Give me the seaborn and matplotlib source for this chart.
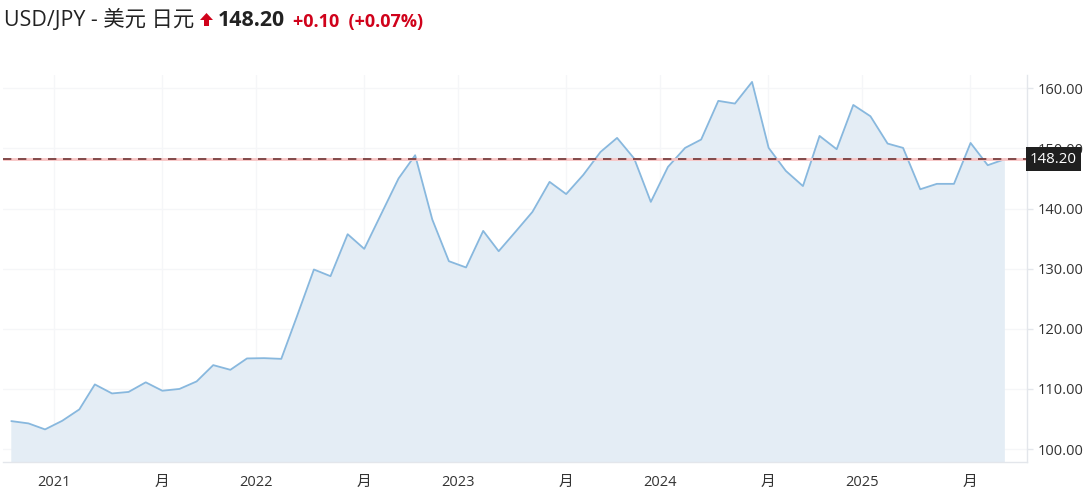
import pandas as pd
import matplotlib.pyplot as plt
import matplotlib.transforms as mtransforms
from matplotlib.patches import Polygon
import seaborn as sns

# monthly USD/JPY closes (Oct 2020 - Sep 2025)
months = pd.date_range("2020-10-01", periods=60, freq="MS") + pd.Timedelta(days=15)
rates = [
    104.65, 104.27, 103.27, 104.70, 106.60, 110.75, 109.25, 109.50, 111.10, 109.70,
    110.00, 111.25, 113.96, 113.18, 115.07, 115.12, 115.00, 121.99, 129.86, 128.75,
    135.73, 133.29, 139.15, 145.00, 148.86, 138.17, 131.24, 130.20, 136.28, 132.90,
    136.20, 139.44, 144.43, 142.40, 145.60, 149.40, 151.74, 148.30, 141.10, 146.92,
    150.08, 151.47, 157.90, 157.45, 161.05, 150.08, 146.26, 143.73, 152.07, 149.86,
    157.22, 155.34, 150.80, 150.08, 143.20, 144.10, 144.10, 150.90, 147.20, 148.20,
]
last_price = 148.20
change = "+0.10"
change_pct = "(+0.07%)"
title = "USD/JPY - 美元 日元"

tick_dates = pd.to_datetime([
    "2021-01-01", "2021-07-15", "2022-01-01", "2022-07-15", "2023-01-01",
    "2023-07-15", "2024-01-01", "2024-07-15", "2025-01-01", "2025-07-15",
])
tick_labels = ["2021", "月", "2022", "月", "2023", "月", "2024", "月", "2025", "月"]
y_ticks = [100, 110, 120, 130, 140, 150, 160]

sns.set_style("white")
plt.rcParams["font.family"] = ["Open Sans", "Noto Sans CJK SC", "DejaVu Sans"]

W, H = 1086, 496
fig = plt.figure(figsize=(W / 100, H / 100), dpi=100)
ax = fig.add_axes([3 / W, 1 - 462 / H, (1027 - 3) / W, (462 - 75) / H])

df = pd.DataFrame({"date": months, "rate": rates})

# area under the line
ax.fill_between(df["date"], df["rate"], 0, color="#e4edf5", lw=0, zorder=1)
sns.lineplot(data=df, x="date", y="rate", ax=ax, color="#88b8de", linewidth=1.3, zorder=3)

# last price line: pink halo + dark dashes
ax.axhline(last_price, color="#f8c4c4", lw=2.0, zorder=4)
ax.axhline(last_price, color="#6e3434", lw=1.2, ls=(0, (5, 4)), zorder=5)

ax.set_xlim(pd.Timestamp("2020-10-01"), pd.Timestamp("2025-10-26"))
ax.set_ylim(97.85, 162.2)
ax.yaxis.tick_right()
ax.set_yticks(y_ticks)
ax.set_yticklabels([f"{v:.2f}" for v in y_ticks])
ax.set_xticks(tick_dates)
ax.set_xticklabels(tick_labels)
ax.set_xlabel("")
ax.set_ylabel("")
ax.grid(True, color="#f5f6f8", lw=1, zorder=0)
ax.set_axisbelow(True)

for side in ["left", "top"]:
    ax.spines[side].set_visible(False)
for side in ["right", "bottom"]:
    ax.spines[side].set_color("#e3e6eb")
    ax.spines[side].set_linewidth(1)

ax.tick_params(axis="both", colors="#e3e6eb", labelcolor="#333333",
               labelsize=10.5, length=4, width=1)
ax.tick_params(axis="y", pad=4)
ax.tick_params(axis="x", pad=5)

# price tag on the right axis
trans = mtransforms.blended_transform_factory(ax.transAxes, ax.transData)
ax.text(1.003, last_price, f"{last_price:.2f}", transform=trans, ha="left", va="center",
        color="white", fontsize=10.8, zorder=6,
        bbox=dict(boxstyle="square,pad=0.28", fc="#1f1f1f", ec="none"))

# header
def px(x, y):
    return x / W, 1 - y / H

fig.text(*px(4, 26.5), title, fontsize=15.4, color="#222222", va="baseline", ha="left")
arrow = [(200, 20), (206.5, 13), (213, 20), (209, 20), (209, 26), (204, 26), (204, 20)]
fig.add_artist(Polygon([px(x, y) for x, y in arrow], closed=True,
                       transform=fig.transFigure, fc="#d0021b", ec="none"))
fig.text(*px(218, 26.5), f"{last_price:.2f}", fontsize=15.4, fontweight="bold",
         color="#222222", va="baseline", ha="left")
fig.text(*px(293, 26.5), f"{change}  {change_pct}", fontsize=13, fontweight="bold",
         color="#d0021b", va="baseline", ha="left")

fig.savefig("out.png", dpi=100)
